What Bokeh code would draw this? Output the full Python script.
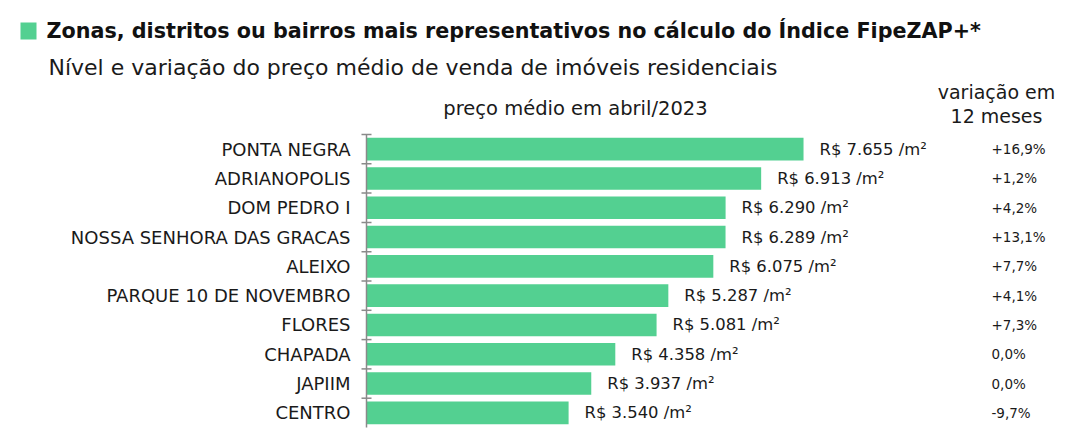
from bokeh.plotting import figure
from bokeh.models import ColumnDataSource, Range1d, LabelSet, Label, BoxAnnotation
from bokeh.core.properties import value
from bokeh.embed import file_html
from bokeh.resources import INLINE

bairros = ["PONTA NEGRA", "ADRIANOPOLIS", "DOM PEDRO I", "NOSSA SENHORA DAS GRACAS", "ALEIXO",
           "PARQUE 10 DE NOVEMBRO", "FLORES", "CHAPADA", "JAPIIM", "CENTRO"]
precos = [7655, 6913, 6290, 6289, 6075, 5287, 5081, 4358, 3937, 3540]
variacoes = ["+16,9%", "+1,2%", "+4,2%", "+13,1%", "+7,7%", "+4,1%", "+7,3%", "0,0%", "0,0%", "-9,7%"]

titulo = "Zonas, distritos ou bairros mais representativos no cálculo do Índice FipeZAP+*"
subtitulo = "Nível e variação do preço médio de venda de imóveis residenciais"
cab_preco = "preço médio em abril/2023"
cab_var1 = "variação em"
cab_var2 = "12 meses"

FONT = "DejaVu Sans"
GREEN = "#53D091"
TXT = "#1a1a1a"
AXIS = "#8a8a8a"

n = len(bairros)
pos = list(range(n))
rotulos = ["R$ {:,} /m²".format(v).replace(",", ".") for v in precos]
src = ColumnDataSource(dict(pos=pos, bairro=bairros, preco=precos, var=variacoes, rot=rotulos,
                            zero=[0] * n, tick=[i - 0.5 for i in pos]))

# layout (pixels)
W, H = 1061, 437
PX = 0.05709          # px per price unit
AX = 366              # axis x inside canvas
ROW = 29.3            # px per category
TOP, BOT = 134, 427   # category block top/bottom inside canvas
LDY = 8               # label vertical correction

p = figure(width=W, height=H, output_backend="svg", toolbar_location=None,
           x_range=Range1d(-AX / PX, (W - AX) / PX),
           y_range=Range1d(n - 0.5 + (H - BOT) / ROW, -0.5 - TOP / ROW),
           min_border_left=0, min_border_right=0, min_border_top=0, min_border_bottom=0)
p.outline_line_color = None
p.xgrid.visible = False
p.ygrid.visible = False
p.xaxis.visible = False
p.yaxis.visible = False

p.hbar(y="pos", left="zero", right="preco", height=0.77, source=src,
       fill_color=GREEN, line_color=None)

# axis line + ticks at category boundaries
p.segment(x0=0, x1=0, y0=-0.5, y1=n - 0.5, line_color=AXIS, line_width=1.5)
p.segment(x0=-5 / PX, x1=5 / PX, y0="tick", y1="tick", source=src,
          line_color=AXIS, line_width=1.5)

# category labels
p.text(x=0, y="pos", text="bairro", source=src, x_offset=-16, text_align="right",
       text_baseline="middle", text_font=value(FONT), text_font_size="18px", text_color=TXT)

# value labels
p.add_layout(LabelSet(x="preco", y="pos", text="rot", source=src, x_offset=16,
                      text_baseline="middle", text_font=value(FONT),
                      text_font_size="16.4px", text_color=TXT))
# variation column
p.add_layout(LabelSet(x=991, x_units="screen", y="pos", text="var", source=src,
                      text_baseline="middle", text_font=value(FONT),
                      text_font_size="13.5px", text_color=TXT))


def lab(text, px, py, size, bold=False, align="left"):
    p.add_layout(Label(x=px, y=H - py + LDY, x_units="screen", y_units="screen",
                       text=text, text_font=FONT, text_font_size=size,
                       text_font_style="bold" if bold else "normal",
                       text_color="#111111" if bold else TXT, text_align=align,
                       text_baseline="alphabetic"))


p.add_layout(BoxAnnotation(left=20, right=36, bottom=H - 39, top=H - 22,
                           left_units="screen", right_units="screen",
                           bottom_units="screen", top_units="screen",
                           fill_color=GREEN, fill_alpha=1, line_color=None))
lab(titulo, 46, 38, "20.7px", bold=True)
lab(subtitulo, 48, 75, "22px")
lab(cab_preco, 575, 116, "19.5px", align="center")
lab(cab_var1, 996, 99, "19px", align="center")
lab(cab_var2, 996, 123, "19px", align="center")

open("out.html", "w").write(file_html(p, INLINE))
